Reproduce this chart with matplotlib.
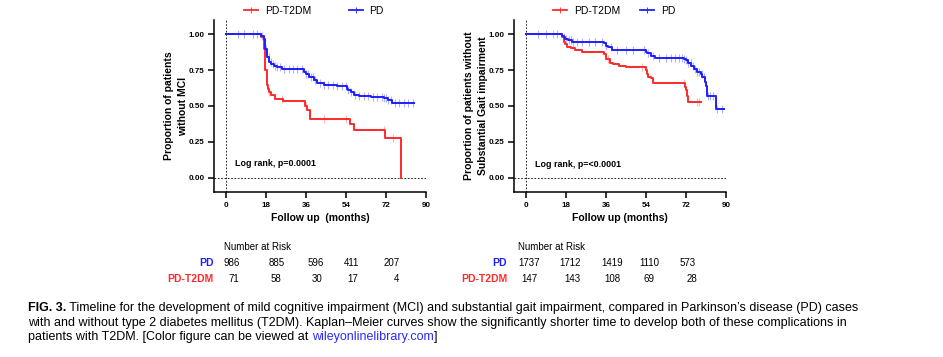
import numpy as np
import matplotlib
matplotlib.use("Agg")
import matplotlib.pyplot as plt
from matplotlib.lines import Line2D

plt.rcParams['font.family'] = ['Liberation Sans', 'DejaVu Sans']

RED = '#ff2a2a'
BLUE = '#1f1fff'

# --- MCI panel ---
mci_t2dm_t = [0, 15.4, 16.9, 17.6, 18.2, 18.7, 19, 20, 21.7, 25.6, 35.4, 36.4, 37.6, 55.7, 57.5, 71.6, 78.9]
mci_t2dm_s = [1, 0.98, 0.90, 0.75, 0.65, 0.62, 0.60, 0.575, 0.55, 0.535, 0.50, 0.47, 0.41, 0.375, 0.33, 0.28, 0.0]
mci_t2dm_cens = [19, 25, 36, 44, 54, 71, 75]

mci_pd_t = [0, 15.8, 16.9, 17.6, 18.4, 19.1, 20.2, 21.4, 22.9, 25.1, 30, 35.2, 36, 37.2, 39.4, 41, 44, 50,
            54.2, 55, 56, 57.5, 60, 65, 71, 72.8, 74.8, 84.6]
mci_pd_s = [1, 0.99, 0.97, 0.90, 0.84, 0.81, 0.79, 0.78, 0.77, 0.76, 0.757, 0.74, 0.72, 0.70, 0.68, 0.66, 0.65, 0.64,
            0.62, 0.61, 0.60, 0.58, 0.57, 0.565, 0.555, 0.54, 0.522, 0.522]
mci_pd_cens = [5, 8, 12, 14, 16, 17, 18, 19, 20, 21, 22, 23, 24, 26, 28, 30, 32, 34, 36, 37, 38, 39, 40, 42, 44,
               46, 48, 50, 52, 54, 55, 56, 58, 60, 62, 64, 66, 68, 70, 71, 72, 73, 74, 76, 78, 80, 82, 84]

# --- Gait panel ---
gait_t2dm_t = [0, 16.1, 16.9, 17.6, 18.4, 19.9, 22, 25.1, 35.2, 36.1, 37.6, 39, 41.7, 44.7, 53.7, 54.3, 54.8,
               56, 57, 71.5, 71.9, 72.2, 72.8, 78.9]
gait_t2dm_s = [1, 0.98, 0.95, 0.93, 0.912, 0.905, 0.89, 0.877, 0.86, 0.83, 0.80, 0.79, 0.78, 0.77, 0.75, 0.72, 0.70,
               0.693, 0.658, 0.63, 0.61, 0.57, 0.53, 0.53]
gait_t2dm_cens = [12, 37, 52, 71, 77, 78]

gait_pd_t = [0, 16.1, 16.9, 17.6, 18.6, 20.6, 34.9, 35.7, 36.7, 38.7, 54, 54.5, 56, 58.2, 65, 71, 71.9, 72.8,
             74.2, 75.6, 77, 78.6, 79.4, 80.4, 80.9, 81.3, 81.6, 85.5, 89.1]
gait_pd_s = [1, 0.99, 0.98, 0.97, 0.96, 0.95, 0.94, 0.92, 0.91, 0.894, 0.88, 0.87, 0.85, 0.838, 0.835, 0.83, 0.82, 0.80,
             0.78, 0.76, 0.737, 0.72, 0.70, 0.67, 0.64, 0.60, 0.573, 0.48, 0.48]
gait_pd_cens = [5, 9, 14, 17, 18, 19, 20, 21, 23, 25, 28, 31, 34, 36, 38, 41, 45, 48, 53, 55, 57, 60, 63, 65, 67,
                69, 70, 71, 72, 73, 74, 75, 76, 77, 78, 79, 80, 82, 83, 84, 86, 88]

mci_risk_pd = ['986', '885', '596', '411', '207']
mci_risk_t2dm = ['71', '58', '30', '17', '4']
gait_risk_pd = ['1737', '1712', '1419', '1110', '573']
gait_risk_t2dm = ['147', '143', '108', '69', '28']

W, H = 943, 357
fig = plt.figure(figsize=(W / 100, H / 100), dpi=100)


def step_val(t, s, x):
    i = np.searchsorted(t, x, side='right') - 1
    return np.asarray(s)[i]


def km(ax, t, s, cens, color):
    ax.step(t, s, where='post', color=color, lw=1.4, zorder=3)
    cy = step_val(t, s, cens)
    ax.plot(cens, cy, ls='none', marker='|', ms=6, mew=0.8, color=color, alpha=0.35, zorder=2)


def panel(rect, pd_data, t2_data, ylabel, xlabel, ptext, ptext_y, leg_x, colsp):
    ax = fig.add_axes(rect)
    km(ax, *t2_data, RED)
    km(ax, *pd_data, BLUE)
    ax.axvline(0, color='k', ls=(0, (2, 2)), lw=0.6)
    ax.axhline(0, color='k', ls=(0, (2, 2)), lw=0.6)
    ax.set_xlim(-5.6, 90)
    ax.set_ylim(-0.1, 1.1)
    ax.set_xticks([0, 18, 36, 54, 72, 90])
    ax.set_yticks([0, 0.25, 0.5, 0.75, 1.0])
    ax.set_yticklabels(['0.00', '0.25', '0.50', '0.75', '1.00'])
    for sp in ['top', 'right']:
        ax.spines[sp].set_visible(False)
    for sp in ['left', 'bottom']:
        ax.spines[sp].set_linewidth(1.1)
    ax.tick_params(width=1.1, length=4, labelsize=5.8, pad=3)
    for lab in ax.get_xticklabels() + ax.get_yticklabels():
        lab.set_fontweight('bold')
    ax.set_ylabel(ylabel, fontsize=7.5, fontweight='bold', linespacing=1.5, labelpad=0)
    ax.set_xlabel(xlabel, fontsize=7.5, fontweight='bold', labelpad=3)
    ax.text(4, ptext_y, ptext, fontsize=6.4, fontweight='bold', va='center')
    h1 = Line2D([], [], color=RED, lw=1.3, marker='|', ms=4, mew=0.6)
    h2 = Line2D([], [], color=BLUE, lw=1.3, marker='|', ms=4, mew=0.6)
    fig.legend([h1, h2], ['PD-T2DM', 'PD'], loc='center left', bbox_to_anchor=(leg_x / W, 1 - 11 / H),
               ncol=2, frameon=False, fontsize=7.5, handlelength=1.35, handletextpad=0.65,
               columnspacing=colsp, borderaxespad=0, borderpad=0)
    return ax


panel([214 / W, 1 - 192 / H, 212 / W, 172 / H],
      (mci_pd_t, mci_pd_s, mci_pd_cens), (mci_t2dm_t, mci_t2dm_s, mci_t2dm_cens),
      'Proportion of patients\nwithout MCI', 'Follow up  (months)', 'Log rank, p=0.0001', 0.10, 244, 3.6)
panel([514 / W, 1 - 192 / H, 212 / W, 172 / H],
      (gait_pd_t, gait_pd_s, gait_pd_cens), (gait_t2dm_t, gait_t2dm_s, gait_t2dm_cens),
      'Proportion of patients without\nSubstantial Gait impairment', 'Follow up (months)', 'Log rank, p=<0.0001',
      0.09, 553, 1.9)


def ftext(x, y, s, **kw):
    return fig.text(x / W, 1 - y / H, s, va='center', **kw)


# number at risk tables
ftext(224, 247, 'Number at Risk', fontsize=7)
ftext(214, 263, 'PD', fontsize=7.5, fontweight='bold', color=BLUE, ha='right')
ftext(214, 279, 'PD-T2DM', fontsize=7.5, fontweight='bold', color=RED, ha='right')
for x, v in zip([232, 277, 316, 352, 392], mci_risk_pd):
    ftext(x, 263, v, fontsize=7, ha='center')
for x, v in zip([234, 276, 317, 353, 397], mci_risk_t2dm):
    ftext(x, 279, v, fontsize=7, ha='center')

ftext(518, 247, 'Number at Risk', fontsize=7)
ftext(507, 263, 'PD', fontsize=7.5, fontweight='bold', color=BLUE, ha='right')
ftext(507, 279, 'PD-T2DM', fontsize=7.5, fontweight='bold', color=RED, ha='right')
for x, v in zip([529, 570, 612, 649, 688], gait_risk_pd):
    ftext(x, 263, v, fontsize=7, ha='center')
for x, v in zip([529, 572, 612, 649, 692], gait_risk_t2dm):
    ftext(x, 279, v, fontsize=7, ha='center')

# caption
cap_fam = ['Liberation Sans', 'DejaVu Sans']
cap_fs = 9.0
renderer = fig.canvas.get_renderer()


def run(x, y, parts):
    for s, kw in parts:
        t = ftext(x, y, s, fontsize=cap_fs, family=cap_fam, **kw)
        bb = t.get_window_extent(renderer)
        x += bb.width


run(28, 308, [('FIG. 3.', {'fontweight': 'bold'}),
              (' Timeline for the development of mild cognitive impairment (MCI) and substantial gait impairment, '
               'compared in Parkinson\u2019s disease (PD) cases', {})])
run(28, 323, [('with and without type 2 diabetes mellitus (T2DM). Kaplan\u2013Meier curves show the significantly '
               'shorter time to develop both of these complications in', {})])
run(28, 337, [('patients with T2DM. [Color figure can be viewed at ', {}),
              ('wileyonlinelibrary.com', {'color': '#2a2aff'}),
              (']', {})])

fig.savefig('out.png', dpi=100)
